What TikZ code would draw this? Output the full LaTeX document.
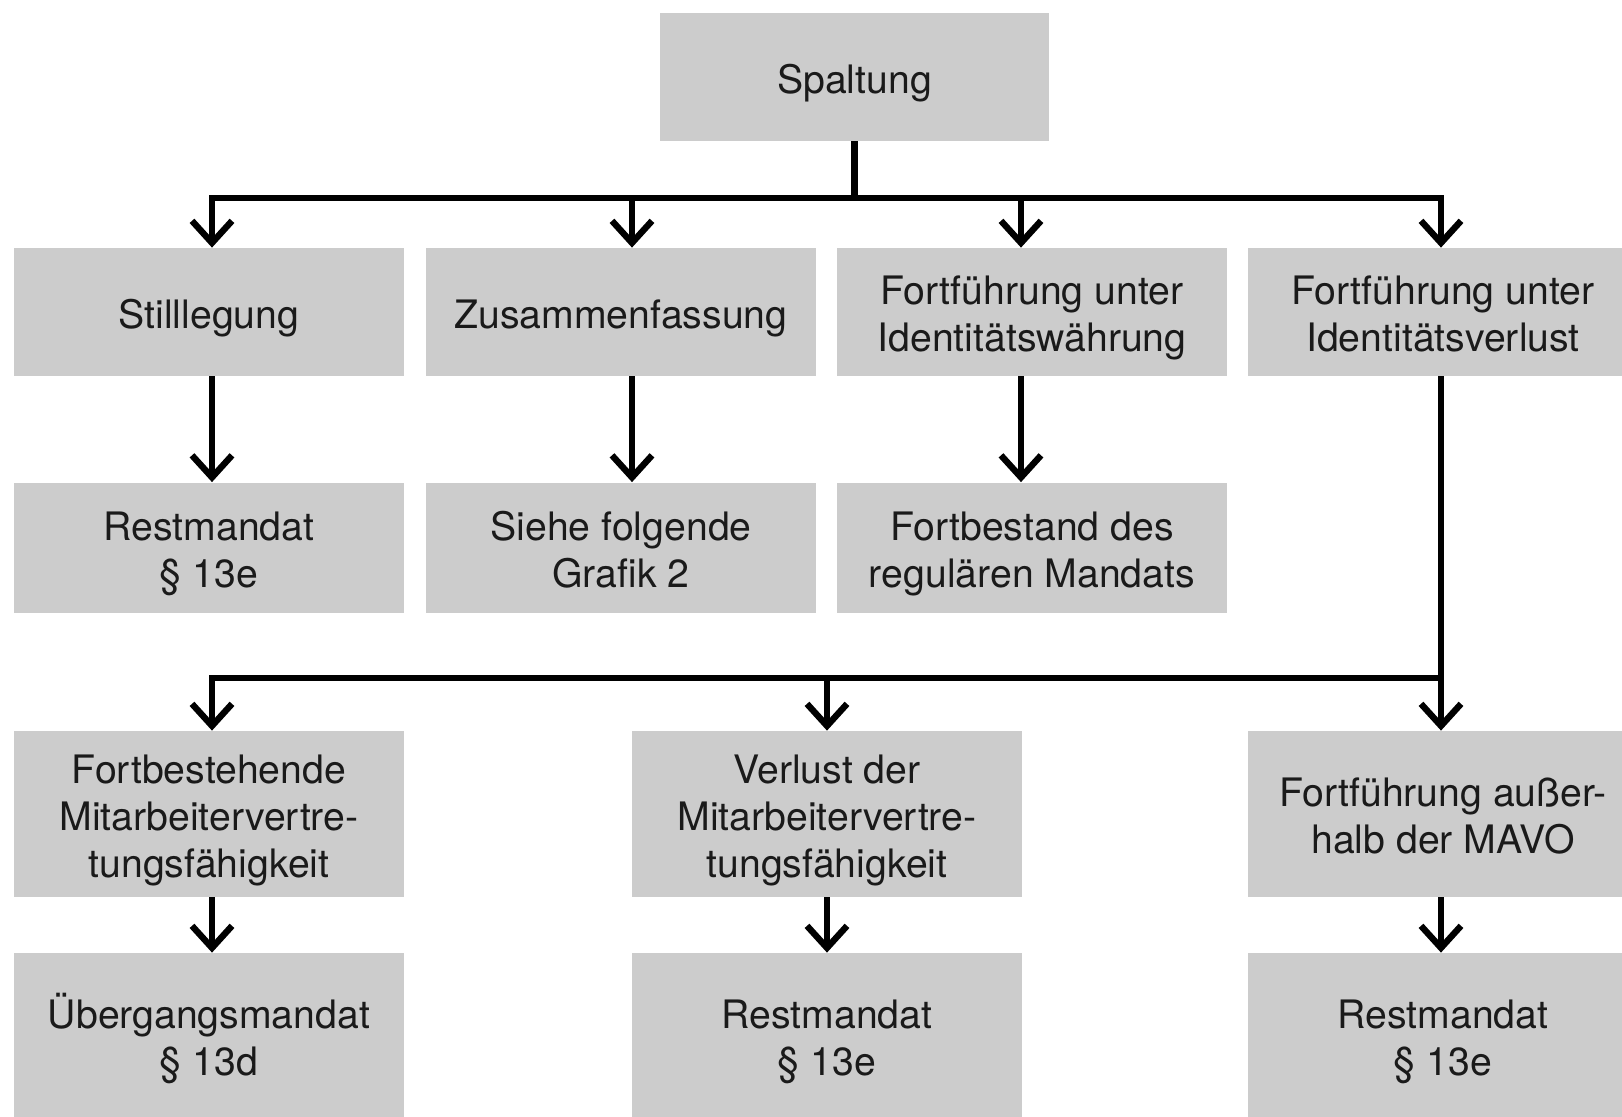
\documentclass[tikz,border=0pt]{standalone}
\usepackage{fontspec}
\setmainfont{TeX Gyre Heros}
\usetikzlibrary{arrows.meta}
\definecolor{boxgray}{HTML}{CCCCCC}
\definecolor{txt}{HTML}{1A1A1A}
% first-line strut, lines smashed so boxes centre on capitals
\newcommand\capst{\rule{0pt}{16pt}}
\newcommand\myln[1]{\smash{#1}}
\tikzset{
  box/.style={fill=boxgray, draw=none, inner sep=0pt, align=center,
    minimum width=195pt, text=txt, font=\fontsize{19.6}{23.5}\selectfont},
  boxA/.style={box, minimum height=64pt},
  boxB/.style={box, minimum height=65pt},
  boxC/.style={box, minimum height=83pt},
  conn/.style={line width=3.2pt, black, line join=miter},
  arr/.style={conn, -{Straight Barb[length=11pt,width=20pt]}}
}
\begin{document}
\begin{tikzpicture}[x=0.5pt,y=-0.5pt]
\useasboundingbox (0,0) rectangle (1622,1116);
\begin{scope}
\clip (0,0) rectangle (1622,1116);
% top
\node[boxA, minimum width=194.5pt] (sp) at (854.5,77) {\capst\myln{Spaltung}};
% row 1
\node[boxA] (s1) at (209,312) {\capst\myln{Stilllegung}};
\node[boxA] (s2) at (621,312) {\capst\myln{Zusammenfassung}};
\node[boxA] (s3) at (1032,312) {\capst\myln{Fortführung unter}\\\myln{Identitätswährung}};
\node[boxA] (s4) at (1443,312) {\capst\myln{Fortführung unter}\\\myln{Identitätsverlust}};
% row 2
\node[boxB] (r1) at (209,547.5) {\capst\myln{Restmandat}\\\myln{§ 13e}};
\node[boxB] (r2) at (621,547.5) {\capst\myln{Siehe folgende}\\\myln{Grafik 2}};
\node[boxB] (r3) at (1032,547.5) {\capst\myln{Fortbestand des}\\\myln{regulären Mandats}};
% row 3
\node[boxC] (t1) at (209,814) {\capst\myln{Fortbestehende}\\\myln{Mitarbeitervertre-}\\\myln{tungsfähigkeit}};
\node[boxC] (t2) at (827,814) {\capst\myln{Verlust der}\\\myln{Mitarbeitervertre-}\\\myln{tungsfähigkeit}};
\node[boxC] (t3) at (1443,814) {\capst\myln{Fortführung außer-}\\\myln{halb der MAVO}};
% row 4
\node[boxC] (u1) at (209,1036) {\capst\myln{Übergangsmandat}\\\myln{§ 13d}};
\node[boxC] (u2) at (827,1036) {\capst\myln{Restmandat}\\\myln{§ 13e}};
\node[boxC] (u3) at (1443,1036) {\capst\myln{Restmandat}\\\myln{§ 13e}};
\end{scope}
% bus coordinates
\coordinate (j1) at (212,198);
\coordinate (j2) at (632,198);
\coordinate (j3) at (1021,198);
\coordinate (j4) at (1441,198);
\coordinate (k1) at (212,678);
\coordinate (k2) at (827,678);
\coordinate (k4) at (1441,678);
% connectors top
\draw[conn] (sp.south) -- (sp.south |- j1);
\draw[arr] (j4) -- (j1) -- (s1.north -| j1);
\draw[arr] (j1) -- (j4) -- (s4.north -| j4);
\draw[arr] (j2) -- (s2.north -| j2);
\draw[arr] (j3) -- (s3.north -| j3);
% row1 -> row2
\draw[arr] (s1.south -| j1) -- (r1.north -| j1);
\draw[arr] (s2.south -| j2) -- (r2.north -| j2);
\draw[arr] (s3.south -| j3) -- (r3.north -| j3);
% col4 down to bus 2
\draw[arr] (s4.south -| k4) -- (k4) -- (t3.north -| k4);
\draw[arr] (k4) -- (k1) -- (t1.north -| k1);
\draw[arr] (k2) -- (t2.north -| k2);
% row3 -> row4
\draw[arr] (t1.south -| k1) -- (u1.north -| k1);
\draw[arr] (t2.south -| k2) -- (u2.north -| k2);
\draw[arr] (t3.south -| k4) -- (u3.north -| k4);
\end{tikzpicture}
\end{document}
